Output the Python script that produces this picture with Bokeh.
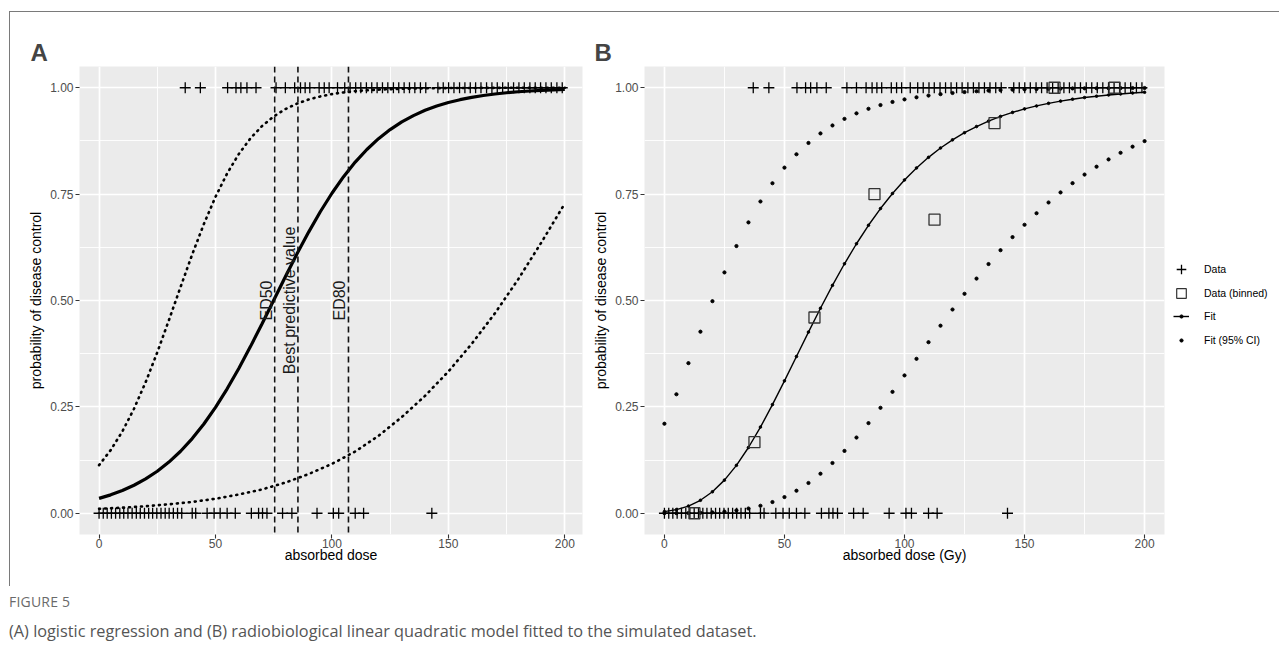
import math
from bokeh.plotting import figure
from bokeh.models import (FixedTicker, Span, Label, Legend, LegendItem, Div,
                          Range1d, NumeralTickFormatter)
from bokeh.layouts import row, column
from bokeh.embed import file_html
from bokeh.resources import INLINE

# ---------------- data ----------------
dose_success = [37.0, 43.5, 55.2, 58.8, 60.9, 63.5, 67.4, 76.0, 80.0, 84.0, 86.5, 88.5,
                90.5, 94.5, 96.7, 98.8, 102.4, 105.5, 107.8, 110.2, 112.4, 114.8, 117.1,
                119.4, 121.7, 124.0, 126.4, 128.7, 131.0, 133.3, 135.6, 138.0, 140.3,
                145.5, 147.8, 150.1, 152.4, 154.8, 157.1, 159.4, 161.7, 164.0, 166.4,
                168.7, 171.0, 173.3, 175.7, 178.0, 180.3, 182.6, 185.0, 187.3, 189.6,
                191.9, 194.2, 196.6, 198.9]
dose_failure = [0.0, 1.8, 3.5, 5.3, 7.1, 8.9, 10.6, 12.4, 14.2, 16.0, 17.7, 19.5, 21.3,
                23.0, 24.8, 26.6, 28.4, 30.1, 31.9, 33.7, 35.5, 40.0, 41.5, 46.4, 49.4,
                52.0, 55.0, 58.5, 65.4, 68.5, 70.2, 72.1, 78.8, 82.8, 93.6, 100.6, 102.9,
                110.0, 113.6, 142.9]

# Panel A curves (logistic fit and 95% CI)
curve_x5 = [0, 5, 10, 15, 20, 25, 30, 35, 40, 45, 50, 55, 60, 65, 70, 75, 80, 85, 90, 95,
            100, 105, 110, 115, 120, 125, 130, 135, 140, 145, 150, 155, 160, 165, 170,
            175, 180, 185, 190, 195, 200]
fit_a = [0.0349, 0.0432, 0.0533, 0.0657, 0.0807, 0.0986, 0.1202, 0.1456, 0.1754, 0.2097,
         0.2488, 0.2925, 0.3403, 0.3916, 0.4455, 0.5006, 0.5558, 0.6096, 0.6608, 0.7086,
         0.7521, 0.7911, 0.8253, 0.8550, 0.8804, 0.9018, 0.9197, 0.9346, 0.9470, 0.9570,
         0.9653, 0.9720, 0.9774, 0.9818, 0.9854, 0.9883, 0.9906, 0.9924, 0.9939, 0.9951,
         0.9961]
ci_upper_a = [0.113, 0.1484, 0.1923, 0.2455, 0.3079, 0.3781, 0.4539, 0.5318, 0.6083, 0.6797,
              0.7436, 0.7986, 0.8442, 0.8811, 0.9101, 0.9326, 0.9498, 0.9628, 0.9725, 0.9797,
              0.9851, 0.9890, 0.9920, 0.9941, 0.9957, 0.9968, 0.9977, 0.9983, 0.9988, 0.9991,
              0.9993, 0.9995, 0.9996, 0.9997, 0.9998, 0.9999, 0.9999, 0.9999, 0.9999, 1.0,
              1.0]
curve_x10 = [0, 10, 20, 30, 40, 50, 60, 70, 80, 90, 100, 110, 120, 130, 140, 150, 160,
             170, 180, 190, 200]
ci_lower_a = [0.0105, 0.0130, 0.0165, 0.0210, 0.0265, 0.0340, 0.0440, 0.0560, 0.0720,
              0.0920, 0.1160, 0.1450, 0.1820, 0.2260, 0.2760, 0.3330, 0.3980, 0.4700,
              0.5500, 0.6370, 0.7280]
vline_x = [75.4, 85.4, 107.1]
vline_labels = ["ED50", "Best predictive value", "ED80"]

# Panel B curves (LQ model fit and 95% CI)
fit_b = [0.0038, 0.0084, 0.0168, 0.0304, 0.0505, 0.0778, 0.1126, 0.1545, 0.2025, 0.2553,
         0.3111, 0.3684, 0.4258, 0.4818, 0.5356, 0.5863, 0.6334, 0.6768, 0.7161, 0.7516,
         0.7834, 0.8116, 0.8365, 0.8584, 0.8776, 0.8944, 0.9089, 0.9216, 0.9326, 0.9421,
         0.9503, 0.9573, 0.9634, 0.9686, 0.9731, 0.9770, 0.9802, 0.9831, 0.9855, 0.9876,
         0.9894]
ci_upper_b = [0.2104, 0.2796, 0.3528, 0.4267, 0.4984, 0.5660, 0.6280, 0.6836, 0.7327, 0.7756,
              0.8123, 0.8437, 0.8703, 0.8927, 0.9114, 0.9269, 0.9399, 0.9506, 0.9594, 0.9667,
              0.9727, 0.9776, 0.9817, 0.9850, 0.9877, 0.9899, 0.9918, 0.9933, 0.9945, 0.9955,
              0.9963, 0.9970, 0.9975, 0.9980, 0.9984, 0.9987, 0.9989, 0.9991, 0.9993, 0.9994,
              0.9995]
ci_lower_b = [0.0001, 0.0002, 0.0005, 0.0010, 0.0020, 0.0038, 0.0067, 0.0111, 0.0175, 0.0263,
              0.0380, 0.0529, 0.0711, 0.0929, 0.1181, 0.1465, 0.1779, 0.2118, 0.2478, 0.2853,
              0.3239, 0.3629, 0.4020, 0.4408, 0.4788, 0.5158, 0.5515, 0.5857, 0.6182, 0.6490,
              0.6780, 0.7051, 0.7304, 0.7540, 0.7758, 0.7960, 0.8145, 0.8316, 0.8472, 0.8616,
              0.8746]
bin_x = [12.5, 37.5, 62.5, 87.5, 112.5, 137.5, 162.5, 187.5]
bin_y = [0.0, 0.167, 0.46, 0.75, 0.69, 0.917, 1.0, 1.0]

legend_labels = ["Data", "Data (binned)", "Fit", "Fit (95% CI)"]

x_ticks = [0, 50, 100, 150, 200]
x_minor = [25, 75, 125, 175]
y_ticks = [0.0, 0.25, 0.5, 0.75, 1.0]
y_minor = [0.125, 0.375, 0.625, 0.875]

FONT = "Liberation Sans"


def make_fig(tag, xlabel, xr, min_left, min_right, frame_w):
    p = figure(frame_width=frame_w, frame_height=468, x_range=Range1d(*xr),
               y_range=Range1d(-0.05, 1.05), output_backend="svg", toolbar_location=None,
               min_border_left=min_left, min_border_right=min_right, min_border_top=54,
               min_border_bottom=52)
    p.background_fill_color = "#EBEBEB"
    p.border_fill_color = "white"
    p.outline_line_color = None
    p.title.text = tag
    p.title.text_font = FONT
    p.title.text_font_size = "24px"
    p.title.text_font_style = "bold"
    p.title.align = "left"
    p.title.offset = -49
    p.title.standoff = 2
    p.xaxis.ticker = FixedTicker(ticks=x_ticks, minor_ticks=x_minor)
    p.yaxis.ticker = FixedTicker(ticks=y_ticks, minor_ticks=y_minor)
    p.yaxis.formatter = NumeralTickFormatter(format="0.00")
    for g in (p.xgrid, p.ygrid):
        g.grid_line_color = "white"
        g.grid_line_width = 1.7
        g.minor_grid_line_color = "white"
        g.minor_grid_line_width = 0.9
    for ax in (p.xaxis, p.yaxis):
        ax.axis_line_color = None
        ax.major_tick_line_color = "#333333"
        ax.major_tick_line_width = 1.1
        ax.major_tick_in = 0
        ax.major_tick_out = 4
        ax.minor_tick_line_color = None
        ax.major_label_text_font = FONT
        ax.major_label_text_font_size = "12px"
        ax.major_label_text_color = "#4D4D4D"
        ax.major_label_standoff = 2
        ax.axis_label_text_font = FONT
        ax.axis_label_text_font_size = "14px"
        ax.axis_label_text_font_style = "normal"
        ax.axis_label_text_color = "black"
        ax.axis_label_standoff = 3
    p.xaxis.major_label_standoff = 0
    p.xaxis.axis_label_standoff = -4
    p.xaxis.axis_label = xlabel
    p.yaxis.axis_label = "probability of disease control"
    return p


# ---------------- Panel A ----------------
pa = make_fig("A", "absorbed dose", (-8.4, 207.6), 69, 8, 503)
pa.scatter(dose_success, [1.0] * len(dose_success), marker="cross", size=11,
           line_width=1.3, color="black")
pa.scatter(dose_failure, [0.0] * len(dose_failure), marker="cross", size=11,
           line_width=1.3, color="black")
pa.line(curve_x5, ci_upper_a, line_color="black", line_width=2.6, line_dash="1 5",
        line_cap="round")
pa.line(curve_x10, ci_lower_a, line_color="black", line_width=2.6, line_dash="1 5",
        line_cap="round")
pa.line(curve_x5, fit_a, line_color="black", line_width=3.2)
for xv, lab in zip(vline_x, vline_labels):
    pa.add_layout(Span(location=xv, dimension="height", line_color="#111111",
                       line_width=1.6, line_dash="6 4"))
    pa.add_layout(Label(x=xv, y=0.5, text=lab, angle=math.pi / 2, text_align="center",
                        text_baseline="bottom", text_font=FONT, text_font_size="16px",
                        text_color="#1a1a1a"))

# ---------------- Panel B ----------------
pb = make_fig("B", "absorbed dose (Gy)", (-8.3, 208.3), 51, 5, 520)
pb.title.offset = -50
pb.scatter(dose_success, [1.0] * len(dose_success), marker="cross", size=11,
           line_width=1.3, color="black")
pb.scatter(dose_failure, [0.0] * len(dose_failure), marker="cross", size=11,
           line_width=1.3, color="black")
pb.scatter(curve_x5, ci_upper_b, marker="circle", size=3.2, color="black")
pb.scatter(curve_x5, ci_lower_b, marker="circle", size=3.2, color="black")
pb.line(curve_x5, fit_b, line_color="black", line_width=1.4)
pb.scatter(curve_x5, fit_b, marker="circle", size=2.6, color="black")
pb.scatter(bin_x, bin_y, marker="square", size=11, line_width=1.3,
           line_color="#333333", fill_color=None)

# ---------------- Legend (separate blank figure) ----------------
# legend-only renderers: a single point that lies outside the visible range
pl = figure(width=110, height=574, x_range=Range1d(0, 1), y_range=Range1d(0, 1),
            output_backend="svg", toolbar_location=None, min_border=0)
pl.axis.visible = False
pl.grid.visible = False
pl.outline_line_color = None
pl.background_fill_color = "white"
off = ([-5], [-5])
lr_data = pl.scatter(*off, marker="cross", line_width=1.3, color="black")
lr_bin = pl.scatter(*off, marker="square", line_width=1.2,
                    line_color="#333333", fill_color=None)
lr_fit_l = pl.line(*off, line_color="black", line_width=1.4)
lr_fit_p = pl.scatter(*off, marker="circle", color="black")
lr_ci = pl.scatter(*off, marker="circle", color="black")


def style_legend(lg):
    lg.background_fill_alpha = 0
    lg.border_line_color = None
    lg.margin = 0
    lg.padding = 0
    lg.label_height = 18
    lg.label_text_font = FONT
    lg.label_text_font_size = "10.5px"
    lg.label_text_color = "black"


legend1 = Legend(items=[
    LegendItem(label=legend_labels[0], renderers=[lr_data]),
    LegendItem(label=legend_labels[1], renderers=[lr_bin]),
], location=(0, 229))
style_legend(legend1)
legend1.glyph_width = 24
legend1.glyph_height = 24
legend1.spacing = 0
legend1.label_standoff = 11

legend2 = Legend(items=[
    LegendItem(label=legend_labels[2], renderers=[lr_fit_l, lr_fit_p]),
    LegendItem(label=legend_labels[3], renderers=[lr_ci]),
], location=(4, 185))
style_legend(legend2)
legend2.glyph_width = 16
legend2.glyph_height = 8
legend2.spacing = 6
legend2.label_standoff = 15

pl.add_layout(legend1)
pl.add_layout(legend2)

panels = row(pa, pb, pl, margin=(11, 0, 0, 9),
             styles={"border-top": "1px solid #7a7a7a", "border-left": "1px solid #7a7a7a"})

caption = Div(text=(
    "<div style=\"font-family:'Open Sans';color:#6a6a6a;font-size:14px;line-height:18px;"
    "padding-top:7px;letter-spacing:0.2px\">FIGURE 5</div>"
    "<div style=\"font-family:'Open Sans';color:#555555;font-size:16.3px;line-height:22px;"
    "padding-top:9px\">(A) logistic regression and (B) radiobiological linear quadratic model "
    "fitted to the simulated dataset.</div>"), width=1200, height=64, margin=(0, 0, 0, 9))

page = column(panels, caption)
open("out.html", "w").write(file_html(page, INLINE))
